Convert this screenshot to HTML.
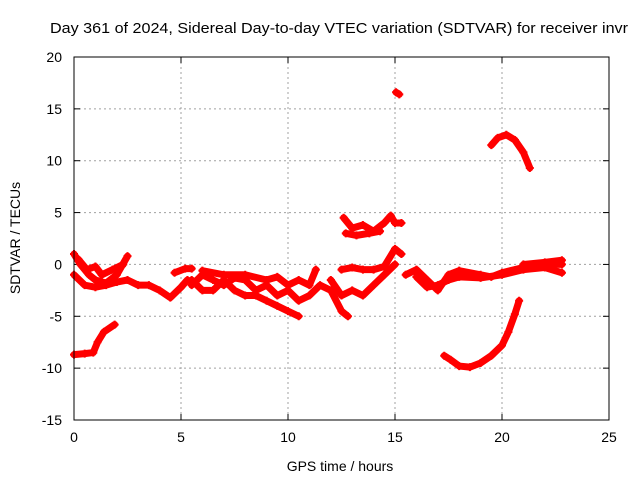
<!DOCTYPE html>
<html><head><meta charset="utf-8"><style>
body{margin:0;background:#fff;}
svg{display:block;font-family:"Liberation Sans",sans-serif;}
</style></head><body>
<svg id="chart" width="640" height="480">
<text x="50" y="33" font-size="15" textLength="578" lengthAdjust="spacingAndGlyphs">Day 361 of 2024, Sidereal Day-to-day VTEC variation (SDTVAR) for receiver invr</text>
<g id="grid"></g>
<g id="ticks"></g>
<g id="series"></g>
<rect x="74" y="57" width="535" height="363" fill="none" stroke="#000"/>
<text x="340" y="471" text-anchor="middle" font-size="14">GPS time / hours</text>
<text transform="translate(20,238) rotate(-90)" text-anchor="middle" font-size="14">SDTVAR / TECUs</text>
</svg>
<script>
const xTicks=[0,5,10,15,20,25];
const yTicks=[-15,-10,-5,0,5,10,15,20];
const track1=[[0,-8.7],[0.5,-8.6],[0.9,-8.5],[1.1,-7.5],[1.4,-6.5],[1.9,-5.8]];
const track2=[[0,1],[0.3,0],[0.7,-1],[1,-1.5],[1.5,-1.8],[2,-1],[2.5,0.8]];
const track3=[[0,-1],[0.5,-2],[1,-2.2],[1.5,-2],[2,-1.7],[2.5,-1.5],[3,-2],[3.5,-2],[4,-2.5],[4.5,-3.2],[5,-2.2],[5.3,-1.5]];
const track4=[[0.2,0.5],[0.6,-0.5],[1,-0.2],[1.3,-1],[1.8,-0.5],[2.3,0]];
const track5=[[4.7,-0.8],[5.2,-0.4],[5.5,-0.4]];
const track6=[[5.5,-2],[6,-1],[6.5,-1.5],[7,-2],[7.5,-1.3],[8,-1.5],[8.5,-2.5],[9,-2],[9.5,-3],[10,-2.5],[10.5,-3.5],[11,-3],[11.5,-2],[12,-2.5],[12.5,-4.5],[12.8,-5]];
const track7=[[5.5,-1.5],[6,-2.5],[6.5,-2.5],[7,-1.5],[7.5,-2.5],[8,-3],[8.5,-3],[9,-3.5],[9.5,-4],[10,-4.5],[10.5,-5]];
const track8=[[6,-0.6],[7,-1],[8,-1],[9,-1.5],[9.5,-1.2],[10,-2],[10.5,-1.5],[11,-2],[11.3,-0.5]];
const track9=[[12,-1.5],[12.5,-3],[13,-2.5],[13.5,-3],[14,-2],[14.5,-1],[15,0]];
const track10=[[12.5,-0.5],[13,-0.3],[13.5,-0.5],[14,-0.5],[14.5,-0.2],[15,1.5],[15.3,1]];
const track11=[[12.6,4.5],[13,3.5],[13.5,3.8],[14,3.2],[14.5,4],[14.8,4.7],[15,4],[15.3,4]];
const track12=[[12.7,3],[13.2,2.8],[13.8,3],[14.3,3.2]];
const track13=[[15.05,16.6],[15.2,16.4]];
const track14=[[15.5,-1],[16,-0.5],[16.5,-1.5],[17,-2.5],[17.5,-1],[18,-0.6],[19,-1],[19.5,-1.2],[20,-0.8],[21,-0.3],[22,0],[22.8,0]];
const track15=[[16,-1.2],[16.5,-2.2],[17,-2],[17.5,-1.5],[18,-1.2],[19,-1.3],[20,-1],[21,-0.5],[22,-0.3],[22.8,-0.8]];
const track16=[[21,0],[22,0.2],[22.8,0.4]];
const track17=[[17.3,-8.8],[17.6,-9.2],[18,-9.8],[18.5,-9.9],[19,-9.5],[19.5,-8.8],[20,-7.8],[20.3,-6.5],[20.6,-4.8],[20.8,-3.5]];
const track18=[[19.5,11.5],[19.8,12.2],[20.2,12.5],[20.6,12],[21,10.8],[21.3,9.3]];
const tracks=[track1,track2,track3,track4,track5,track6,track7,track8,track9,track10,track11,track12,track13,track14,track15,track16,track17,track18];
const NS='http://www.w3.org/2000/svg';
const X=v=>74+(v-0)/25*535;
const Y=v=>420-(v+15)/35*363;
const grid=document.getElementById('grid'),ticks=document.getElementById('ticks'),ser=document.getElementById('series');
function mk(t,a,p){const e=document.createElementNS(NS,t);for(const k in a)e.setAttribute(k,a[k]);p.appendChild(e);return e;}
xTicks.forEach(v=>{
 const x=X(v);
 if(v>0&&v<25){const g=mk('line',{x1:x,x2:x,y1:57,y2:420,stroke:'#a0a0a0','stroke-dasharray':'2,3'},grid);
 
 }
 mk('line',{x1:x,x2:x,y1:420,y2:414,stroke:'#000'},ticks);mk('line',{x1:x,x2:x,y1:57,y2:63,stroke:'#000'},ticks);
 const t=mk('text',{x:x,y:442,'text-anchor':'middle','font-size':14},ticks);t.textContent=v;
 
 
});
yTicks.forEach(v=>{
 const y=Y(v);
 if(v>-15&&v<20){const g=mk('line',{x1:74,x2:609,y1:y,y2:y,stroke:'#a0a0a0','stroke-dasharray':'2,3'},grid);
 
 }
 mk('line',{x1:74,x2:80,y1:y,y2:y,stroke:'#000'},ticks);mk('line',{x1:609,x2:603,y1:y,y2:y,stroke:'#000'},ticks);
 const t=mk('text',{x:62,y:y+5,'text-anchor':'end','font-size':14},ticks);t.textContent=v;
 
 
});
tracks.forEach(tr=>{
 const p=mk('polyline',{points:tr.map(d=>X(d[0])+','+Y(d[1])).join(' '),fill:'none',stroke:'#f00','stroke-width':7,'stroke-linejoin':'round','stroke-linecap':'round'},ser);
 
 
 tr.forEach(d=>{
  const m=mk('path',{d:`M${X(d[0])-4},${Y(d[1])}h8M${X(d[0])},${Y(d[1])-4}v8`,stroke:'#f00','stroke-width':2},ser);
  
  
 });
});
</script>
</body></html>
